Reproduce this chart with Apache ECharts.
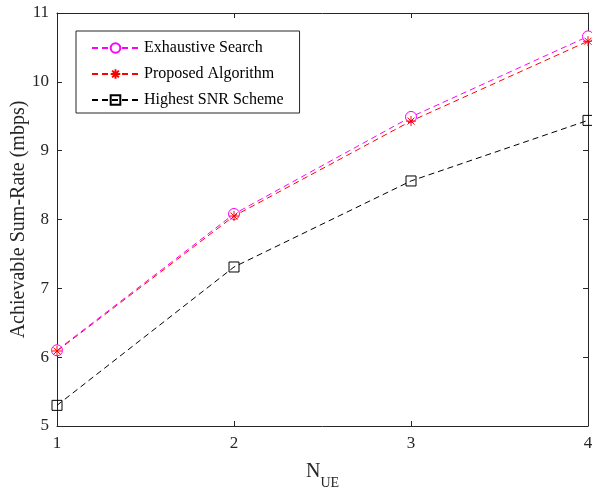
<!DOCTYPE html>
<html>
<head>
<meta charset="utf-8">
<script src="https://cdn.jsdelivr.net/npm/echarts@6/dist/echarts.min.js"></script>
<style>
html,body{margin:0;padding:0;background:#fff;}
#chart{width:592px;height:487px;}
</style>
</head>
<body>
<div id="chart"></div>
<script>
const nUE = [1, 2, 3, 4];
const exhaustive = [6.10, 8.08, 9.49, 10.66];
const proposed = [6.09, 8.05, 9.43, 10.59];
const highestSNR = [5.30, 7.31, 8.56, 9.44];
const seriesNames = ['Exhaustive Search', 'Proposed Algorithm', 'Highest SNR Scheme'];
const yTicks = [5, 6, 7, 8, 9, 10, 11];

const FONT = 'Liberation Serif';
const chart = echarts.init(document.getElementById('chart'), null, {renderer: 'canvas'});
const pair = arr => nUE.map((x, i) => [x, arr[i]]);
const star = 'path://M0,-5L0,5M-5,0L5,0M-3.5,-3.5L3.5,3.5M-3.5,3.5L3.5,-3.5';
const axisCol = '#262626';

const axBase = {
  type: 'value',
  axisLine: {show: true, lineStyle: {color: axisCol, width: 1}},
  axisTick: {show: true, inside: true, length: 5, lineStyle: {color: axisCol}},
  splitLine: {show: false}
};

chart.setOption({
  animation: false,
  backgroundColor: '#fff',
  grid: {left: 57, right: 4, top: 13, bottom: 61, containLabel: false, outerBoundsMode: 'none'},
  legend: {
    orient: 'vertical',
    left: 76, top: 31,
    padding: [9, 16, 5, 15],
    itemWidth: 47, itemHeight: 12, itemGap: 10,
    backgroundColor: '#fff',
    borderColor: axisCol, borderWidth: 1,
    textStyle: {fontFamily: FONT, fontSize: 16, color: '#000'},
    data: seriesNames
  },
  xAxis: [
    Object.assign({}, axBase, {
      min: 1, max: 4, interval: 1,
      axisLabel: {fontFamily: FONT, fontSize: 17, color: axisCol, margin: 9},
      name: '{n|N}{s|UE}', nameLocation: 'middle', nameGap: 36, nameMoveOverlap: false,
      nameTextStyle: {rich: {
        n: {fontFamily: FONT, fontSize: 20, color: axisCol, verticalAlign: 'bottom'},
        s: {fontFamily: FONT, fontSize: 14, color: axisCol, verticalAlign: 'bottom', padding: [0,0,-8,0]}
      }}
    }),
    Object.assign({}, axBase, {
      position: 'top', min: 1, max: 4, interval: 1,
      axisLabel: {show: false}
    })
  ],
  yAxis: [
    Object.assign({}, axBase, {
      min: 5, max: 11, interval: 1,
      axisLabel: {fontFamily: FONT, fontSize: 17, color: axisCol, margin: 8,
        formatter: v => yTicks.includes(v) ? String(v) : ''},
      name: 'Achievable Sum-Rate (mbps)', nameLocation: 'middle', nameGap: 28, nameMoveOverlap: false,
      nameTextStyle: {fontFamily: FONT, fontSize: 20, color: axisCol}
    }),
    Object.assign({}, axBase, {
      position: 'right', min: 5, max: 11, interval: 1,
      axisLabel: {show: false}
    })
  ],
  series: [
    {
      name: seriesNames[0], type: 'line', data: pair(exhaustive),
      symbol: 'circle', symbolSize: 11, showAllSymbol: true,
      lineStyle: {color: '#ff00ff', width: 1, type: [6, 4]},
      itemStyle: {color: '#fff', borderColor: '#ff00ff', borderWidth: 1},
      z: 3
    },
    {
      name: seriesNames[1], type: 'line', data: pair(proposed),
      symbol: star, symbolSize: 10,
      lineStyle: {color: '#ff0000', width: 1, type: [6, 4]},
      itemStyle: {color: 'none', borderColor: '#ff0000', borderWidth: 1},
      z: 4
    },
    {
      name: seriesNames[2], type: 'line', data: pair(highestSNR),
      symbol: 'rect', symbolSize: 10,
      lineStyle: {color: '#000', width: 1, type: [6, 4]},
      itemStyle: {color: 'none', borderColor: '#000', borderWidth: 1},
      z: 2
    }
  ]
});
</script>
</body>
</html>
